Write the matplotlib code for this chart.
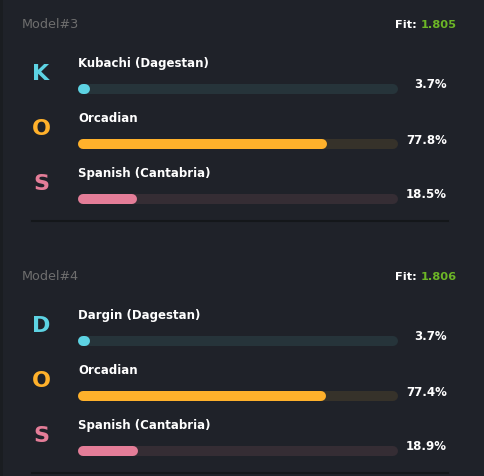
import matplotlib.pyplot as plt
from matplotlib.patches import Rectangle

# data
models = ["Model#3", "Model#4"]
fits = ["1.805", "1.806"]
letters = [["K", "O", "S"], ["D", "O", "S"]]
populations = [["Kubachi (Dagestan)", "Orcadian", "Spanish (Cantabria)"],
               ["Dargin (Dagestan)", "Orcadian", "Spanish (Cantabria)"]]
shares = [[3.7, 77.8, 18.5], [3.7, 77.4, 18.9]]

colors = ["#5dd3e3", "#ffb12b", "#e47d98"]
tracks = ["#26343a", "#36322a", "#352d34"]
bg = "#1f2229"

plt.rcParams['font.family'] = ['DejaVu Sans']

fig = plt.figure(figsize=(4.84, 4.76), dpi=100, facecolor=bg)
ax = fig.add_axes([0, 0, 1, 1])
ax.set_xlim(0, 484)
ax.set_ylim(476, 0)
ax.axis("off")
ax.set_facecolor(bg)

# darker strip on the left edge
ax.add_patch(Rectangle((0, 0), 3, 476, color="#1a1d21", lw=0))

bar_x0, bar_w, bar_h = 78, 320, 10
lw = bar_h * 72 / 100

block_top = [0, 252]
for m in range(len(models)):
    top = block_top[m]
    ax.text(22, top + 25, models[m], color="#6e6e6e", fontsize=9.2,
            va="center", ha="left")
    ax.text(421, top + 25, "Fit: ", color="white", fontsize=8.2,
            fontweight="bold", va="center", ha="right")
    ax.text(421, top + 25, fits[m], color="#6cb626", fontsize=8.2,
            fontweight="bold", va="center", ha="left")
    for i in range(3):
        row = top + 64 + i * 55
        by = row + 25
        ax.text(41, row + 10, letters[m][i], color=colors[i], fontsize=16,
                fontweight="bold", va="center", ha="center")
        ax.text(bar_x0, row, populations[m][i], color="white", fontsize=8.5,
                fontweight="bold", va="center", ha="left")
        r = bar_h / 2
        ax.plot([bar_x0 + r, bar_x0 + bar_w - r], [by, by], color=tracks[i],
                lw=lw, solid_capstyle="round")
        fill_end = max(bar_x0 + bar_w * shares[m][i] / 100, bar_x0 + bar_h)
        ax.plot([bar_x0 + r, fill_end - r], [by, by], color=colors[i],
                lw=lw, solid_capstyle="round")
        ax.text(447, by - 4, f"{shares[m][i]}%", color="white", fontsize=8.5,
                fontweight="bold", va="center", ha="right")
    ax.plot([32, 448], [top + 221, top + 221], color="#14171a", lw=1.5)

fig.savefig("out.png", dpi=100, facecolor=bg)
